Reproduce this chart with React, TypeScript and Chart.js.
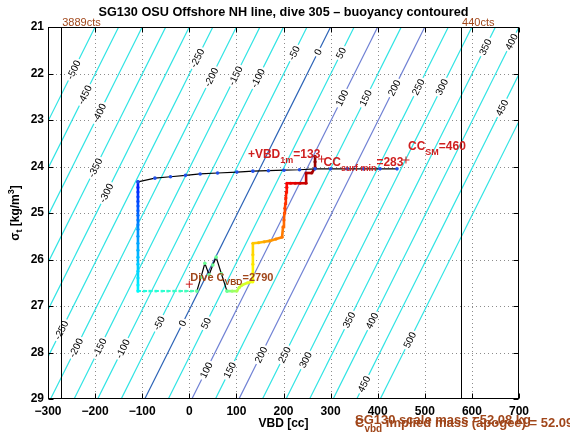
import React, { useEffect, useRef } from "react";
import { Chart, registerables } from "chart.js";

Chart.register(...registerables);

const FONT = '"Liberation Sans", Arial, Helvetica, sans-serif';

// ---- text ----
const TITLE = "SG130 OSU Offshore NH line, dive 305 – buoyancy contoured";
const X_TITLE = "VBD [cc]";

// ---- axes ----
const X_MIN = -300;
const X_MAX = 700;
const Y_MIN = 21;
const Y_MAX = 29;
const xTicks = [-300, -200, -100, 0, 100, 200, 300, 400, 500, 600, 700];
const yTicks = [21, 22, 23, 24, 25, 26, 27, 28, 29];

// ---- buoyancy contours (g) ----
const contourLevels = [-500, -450, -400, -350, -300, -250, -200, -150, -100, -50, 0, 50, 100, 150, 200, 250, 300, 350, 400, 450, 500];
const zeroContourVbdAtTop = 300; // VBD where the 0 g contour meets sigma 21
const zeroContourVbdAtBottom = -94.6; // VBD where the 0 g contour meets sigma 29

// contour label positions: level and sigma where the label sits
const labelLevels = [-500, -450, -400, -250, -200, -150, -100, -50, 0, 50, 100, 150, 200, 250, 300, 350, 400, 450, -350, -300,
  -250, -200, -150, -100, -50, 0, 50, 100, 150, 200, 250, 300, 350, 400, 450, 500];
const labelSigmas = [21.92, 22.46, 22.85, 21.67, 22.08, 22.05, 22.1, 21.56, 21.54, 21.56, 22.53, 22.53, 22.31, 22.29, 22.29, 21.43, 21.32, 22.74, 24.03, 24.57,
  27.52, 27.9, 27.9, 27.92, 27.37, 27.37, 27.37, 28.38, 28.38, 28.05, 28.05, 28.16, 27.3, 27.32, 28.68, 27.73];

// ---- VBD count limits ----
const minVbdLimit = -272; // 3889 cts
const maxVbdLimit = 577; // 440 cts
const minLimitLabel = "3889cts";
const maxLimitLabel = "440cts";

// ---- surface (black line, blue dots) ----
const surfaceVbd = [-109, -73, -40, -8, 23, 60, 101, 135, 168, 201, 234, 267, 300, 335, 370, 405, 441];
const surfaceSigma = [24.33, 24.25, 24.22, 24.19, 24.16, 24.14, 24.12, 24.1, 24.09, 24.08, 24.07, 24.05, 24.05, 24.05, 24.05, 24.05, 24.05];

// ---- descent ----
const descentVbd = [-109, -109, -109, -109, -109, -109, -109, -109, -109, -109, -109, -109, -109, -109, -109, -109, -109, -109, -109, -109];
const descentSigma = [24.33, 24.45, 24.55, 24.65, 24.75, 24.85, 24.95, 25.05, 25.15, 25.25, 25.35, 25.5, 25.65, 25.8, 25.95, 26.1, 26.25, 26.4, 26.55, 26.68];

// ---- apogee horizontal ----
const apogeeVbd = [-109, -96, -84, -71, -58, -46, -33, -20, -8, 4, 16];
const apogeeSigma = [26.68, 26.68, 26.68, 26.68, 26.68, 26.68, 26.68, 26.68, 26.68, 26.68, 26.68];

// ---- zigzag ----
const zigzagVbd = [16, 25, 33, 42, 50, 57, 68, 80];
const zigzagSigma = [26.68, 26.38, 26.08, 26.33, 26.12, 25.95, 26.3, 26.68];

// ---- ascent ----
const ascentVbd = [80, 91, 101, 106, 112, 124, 135, 135, 135, 135, 135, 147, 159, 171, 184, 197, 199, 201, 202, 203, 204, 205, 206, 207, 207, 215, 225, 235, 248, 248, 260, 267, 267, 267];
const ascentSigma = [26.68, 26.68, 26.68, 26.6, 26.55, 26.5, 26.48, 26.3, 26.1, 25.9, 25.65, 25.64, 25.62, 25.6, 25.56, 25.52, 25.3, 25.15, 25.0, 24.9, 24.8, 24.68, 24.55, 24.45, 24.36, 24.36, 24.36, 24.36, 24.36, 24.14, 24.14, 24.03, 23.9, 23.78];

// ---- annotations ----
const vbd1m = 133;
const ccSurfMin = 283;
const ccSM = 460;
const diveCvbd = 2790;
const markerSigma = 23.86;
const scaleMassText = "SG130 scale mass =52.08 kg";
const impliedMassText = " implied mass (apogee) = 52.099";

// ---- helpers ----
const pts = (xs: number[], ys: number[]) => xs.map((x, i) => ({ x, y: ys[i] }));

function jet(t: number): string {
  const c = (v: number) => Math.round(255 * Math.max(0, Math.min(1, v)));
  const r = c(1.5 - Math.abs(4 * t - 3));
  const g = c(1.5 - Math.abs(4 * t - 2));
  const b = c(1.5 - Math.abs(4 * t - 1));
  return `rgb(${r},${g},${b})`;
}
function jetRange(n: number, t0: number, t1: number, p = 1): string[] {
  return Array.from({ length: n }, (_, i) => jet(t0 + (t1 - t0) * Math.pow(n > 1 ? i / (n - 1) : 0, p)));
}
function contourColor(level: number): string {
  if (level === 0) return "#2a62b6";
  if (level === 100 || level === 200) return "#6f80d4";
  return "#2fe4e4";
}
const contourTopVbd = (level: number) => level + zeroContourVbdAtTop;
const contourBottomVbd = (level: number) => level + zeroContourVbdAtBottom;
const contourVbdAt = (level: number, s: number) =>
  contourTopVbd(level) + (contourBottomVbd(level) - contourTopVbd(level)) * (s - Y_MIN) / (Y_MAX - Y_MIN);

type Part = [string, boolean];
function drawRich(ctx: CanvasRenderingContext2D, parts: Part[], x: number, y: number, size: number, subSize: number, weight: string, color: string) {
  let cx = x;
  ctx.fillStyle = color;
  ctx.textAlign = "left";
  ctx.textBaseline = "middle";
  for (const [t, sub] of parts) {
    ctx.font = `${weight} ${sub ? subSize : size}px ${FONT}`;
    ctx.fillText(t, cx, sub ? y + size * 0.5 : y);
    cx += ctx.measureText(t).width;
  }
}
function plus(ctx: CanvasRenderingContext2D, x: number, y: number, color: string) {
  ctx.save();
  ctx.strokeStyle = color;
  ctx.lineWidth = 1;
  ctx.beginPath();
  ctx.moveTo(x - 3.5, y);
  ctx.lineTo(x + 3.5, y);
  ctx.moveTo(x, y - 3.5);
  ctx.lineTo(x, y + 3.5);
  ctx.stroke();
  ctx.restore();
}

const RED = "#cf1f1f";
const BROWN = "#a0461a";

const decor = {
  id: "decor",
  beforeDatasetsDraw(chart: any) {
    const { ctx, chartArea: a, scales } = chart;
    ctx.save();
    ctx.strokeStyle = "#8c8c8c";
    ctx.lineWidth = 1;
    ctx.setLineDash([1, 3]);
    for (const v of xTicks) {
      if (v === X_MIN || v === X_MAX) continue;
      const x = Math.round(scales.x.getPixelForValue(v)) + 0.5;
      ctx.beginPath();
      ctx.moveTo(x, a.top);
      ctx.lineTo(x, a.bottom);
      ctx.stroke();
    }
    for (const v of yTicks) {
      if (v === Y_MIN || v === Y_MAX) continue;
      const y = Math.round(scales.y.getPixelForValue(v)) + 0.5;
      ctx.beginPath();
      ctx.moveTo(a.left, y);
      ctx.lineTo(a.right, y);
      ctx.stroke();
    }
    ctx.restore();
  },
  afterDatasetDraw(chart: any, args: any) {
    if (args.index !== 0) return;
    const { ctx, chartArea: a, scales } = chart;
    const sx = scales.x, sy = scales.y;
    const ang = Math.atan2(
      sy.getPixelForValue(Y_MIN) - sy.getPixelForValue(Y_MAX),
      sx.getPixelForValue(contourTopVbd(0)) - sx.getPixelForValue(contourBottomVbd(0))
    );
    ctx.save();
    ctx.beginPath();
    ctx.rect(a.left, a.top, a.right - a.left, a.bottom - a.top);
    ctx.clip();
    ctx.font = `10px ${FONT}`;
    ctx.textAlign = "center";
    ctx.textBaseline = "middle";
    labelLevels.forEach((lv, i) => {
      const s = labelSigmas[i];
      const px = sx.getPixelForValue(contourVbdAt(lv, s));
      const py = sy.getPixelForValue(s);
      const txt = String(lv);
      const w = ctx.measureText(txt).width;
      ctx.save();
      ctx.translate(px, py);
      ctx.rotate(ang);
      ctx.fillStyle = "#ffffff";
      ctx.fillRect(-w / 2 - 2, -4, w + 4, 8);
      ctx.fillStyle = "#000000";
      ctx.fillText(txt, 0, 0.5);
      ctx.restore();
    });
    // VBD count limit lines
    ctx.strokeStyle = "#000";
    ctx.lineWidth = 1;
    ctx.beginPath();
    for (const v of [minVbdLimit, maxVbdLimit]) {
      const x = Math.round(sx.getPixelForValue(v)) + 0.5;
      ctx.moveTo(x, a.top);
      ctx.lineTo(x, a.bottom);
    }
    ctx.stroke();
    ctx.restore();
  },
  afterDraw(chart: any) {
    const { ctx, chartArea: a, scales } = chart;
    const sx = scales.x, sy = scales.y;
    const cx = (a.left + a.right) / 2;
    const cy = (a.top + a.bottom) / 2;
    ctx.save();
    // frame
    ctx.strokeStyle = "#000";
    ctx.lineWidth = 1;
    ctx.setLineDash([]);
    const L = Math.round(a.left) + 0.5, R = Math.round(a.right) - 0.5, T = Math.round(a.top) + 0.5, B = Math.round(a.bottom) - 0.5;
    ctx.strokeRect(L, T, R - L, B - T);
    ctx.beginPath();
    for (const v of xTicks) {
      const x = Math.round(sx.getPixelForValue(v)) + 0.5;
      ctx.moveTo(x, B); ctx.lineTo(x, B - 5);
      ctx.moveTo(x, T); ctx.lineTo(x, T + 5);
    }
    for (const v of yTicks) {
      const y = Math.round(sy.getPixelForValue(v)) + 0.5;
      ctx.moveTo(L, y); ctx.lineTo(L + 5, y);
      ctx.moveTo(R, y); ctx.lineTo(R - 5, y);
    }
    ctx.stroke();

    // title
    ctx.fillStyle = "#000";
    ctx.textAlign = "center";
    ctx.textBaseline = "middle";
    ctx.font = `bold 12.7px ${FONT}`;
    ctx.fillText(TITLE, cx, 12);
    // x title
    ctx.font = `bold 12px ${FONT}`;
    ctx.fillText(X_TITLE, cx, 424);
    // y title (rotated, with subscript and superscript)
    ctx.save();
    ctx.translate(16, cy);
    ctx.rotate(-Math.PI / 2);
    const yParts: [string, number, number][] = [["σ", 12, 0], ["t", 9, 4], [" [kg/m", 12, 0], ["3", 9, -4], ["]", 12, 0]];
    let tw = 0;
    for (const [t, s] of yParts) { ctx.font = `bold ${s}px ${FONT}`; tw += ctx.measureText(t).width; }
    let px = -tw / 2;
    ctx.textAlign = "left";
    for (const [t, s, dy] of yParts) {
      ctx.font = `bold ${s}px ${FONT}`;
      ctx.fillText(t, px, dy);
      px += ctx.measureText(t).width;
    }
    ctx.restore();

    // count limits labels
    ctx.font = `11px ${FONT}`;
    ctx.fillStyle = BROWN;
    ctx.textAlign = "left";
    ctx.textBaseline = "alphabetic";
    ctx.fillText(minLimitLabel, sx.getPixelForValue(minVbdLimit) + 1, a.top - 1);
    ctx.fillText(maxLimitLabel, sx.getPixelForValue(maxVbdLimit) + 1, a.top - 1);

    // annotations
    const my = sy.getPixelForValue(markerSigma);
    drawRich(ctx, [["+VBD", false], ["1m", true], ["=" + vbd1m, false]], sx.getPixelForValue(vbd1m) - 4, sy.getPixelForValue(23.75), 12, 9, "bold", RED);
    plus(ctx, sx.getPixelForValue(ccSurfMin) - 1, my - 1, RED);
    drawRich(ctx, [["CC", false], ["surf min", true], ["=" + ccSurfMin, false]], sx.getPixelForValue(ccSurfMin) + 1, sy.getPixelForValue(23.92), 12, 9, "bold", RED);
    plus(ctx, sx.getPixelForValue(ccSM), my, RED);
    drawRich(ctx, [["CC", false], ["SM", true], ["=" + ccSM, false]], sx.getPixelForValue(ccSM) + 2, sy.getPixelForValue(23.58), 12, 9, "bold", RED);
    plus(ctx, sx.getPixelForValue(0), sy.getPixelForValue(26.53), RED);
    drawRich(ctx, [["Dive C", false], ["VBD", true], ["=" + diveCvbd, false]], sx.getPixelForValue(0) + 1, sy.getPixelForValue(26.39), 11, 8.5, "bold", BROWN);

    // mass texts
    drawRich(ctx, [[scaleMassText, false]], 355, 420, 13, 10, "bold", BROWN);
    drawRich(ctx, [["C", false], ["vbd", true], [impliedMassText, false]], 355, 423, 13, 10, "bold", BROWN);
    ctx.restore();
  },
};

export default function App() {
  const ref = useRef<HTMLCanvasElement | null>(null);
  useEffect(() => {
    document.body.style.margin = "0";
    if (!ref.current) return;
    const datasets: any[] = [];
    contourLevels.forEach((lv) => {
      datasets.push({
        data: [
          { x: contourTopVbd(lv), y: Y_MIN },
          { x: contourBottomVbd(lv), y: Y_MAX },
        ],
        borderColor: contourColor(lv),
        borderWidth: 1.2,
        pointRadius: 0,
        showLine: true,
        order: 10,
      });
    });
    const descentColors = jetRange(descentVbd.length, 0.15, 0.37, 1);
    datasets.push({
      data: pts(descentVbd, descentSigma),
      showLine: true,
      borderWidth: 2.6,
      segment: { borderColor: (c: any) => descentColors[c.p0DataIndex] },
      borderColor: descentColors[0],
      pointRadius: 1.6,
      pointBackgroundColor: descentColors,
      pointBorderColor: descentColors,
      pointBorderWidth: 0,
      order: 4,
    });
    const apogeeColors = jetRange(apogeeVbd.length, 0.4, 0.45, 1);
    datasets.push({
      data: pts(apogeeVbd, apogeeSigma),
      showLine: true,
      borderWidth: 2,
      borderDash: [3, 2],
      segment: { borderColor: (c: any) => apogeeColors[c.p0DataIndex] },
      borderColor: apogeeColors[0],
      pointRadius: 1.8,
      pointStyle: "rect",
      pointBackgroundColor: apogeeColors,
      pointBorderColor: apogeeColors,
      pointBorderWidth: 0,
      order: 4,
    });
    datasets.push({
      data: pts(zigzagVbd, zigzagSigma),
      showLine: true,
      borderWidth: 1.2,
      borderColor: "#000",
      pointRadius: 1.8,
      pointBackgroundColor: jet(0.48),
      pointBorderColor: jet(0.48),
      pointBorderWidth: 0,
      order: 3,
    });
    const ascentColors = jetRange(ascentVbd.length, 0.5, 1.0, 0.85);
    datasets.push({
      data: pts(ascentVbd, ascentSigma),
      showLine: true,
      borderWidth: 2.6,
      segment: { borderColor: (c: any) => ascentColors[c.p0DataIndex] },
      borderColor: ascentColors[0],
      pointRadius: 1.6,
      pointBackgroundColor: ascentColors,
      pointBorderColor: ascentColors,
      pointBorderWidth: 0,
      order: 3,
    });
    datasets.push({
      data: pts(surfaceVbd, surfaceSigma),
      showLine: true,
      borderWidth: 1.2,
      borderColor: "#000",
      pointRadius: 1.8,
      pointBackgroundColor: "#2050e8",
      pointBorderColor: "#2050e8",
      pointBorderWidth: 0,
      order: 1,
    });

    const chart = new Chart(ref.current, {
      type: "scatter",
      data: { datasets },
      options: {
        animation: false,
        responsive: false,
        maintainAspectRatio: false,
        layout: { padding: { top: 27, right: 51, left: 0, bottom: 0 } },
        plugins: { legend: { display: false }, tooltip: { enabled: false }, title: { display: false } },
        scales: {
          x: {
            type: "linear",
            min: X_MIN,
            max: X_MAX,
            afterBuildTicks: (s: any) => { s.ticks = xTicks.map((v) => ({ value: v })); },
            afterFit: (s: any) => { s.height = 40; },
            grid: { display: false, drawTicks: false },
            border: { display: false },
            ticks: {
              autoSkip: false,
              maxRotation: 0,
              padding: 5,
              color: "#000",
              font: { family: FONT, size: 12, weight: "bold" },
              callback: (v: any) => String(v).replace("-", "\u2212"),
            },
          },
          y: {
            type: "linear",
            min: Y_MIN,
            max: Y_MAX,
            reverse: true,
            afterBuildTicks: (s: any) => { s.ticks = yTicks.map((v) => ({ value: v })); },
            afterFit: (s: any) => { s.width = 48; },
            grid: { display: false, drawTicks: false },
            border: { display: false },
            ticks: {
              autoSkip: false,
              padding: 4,
              color: "#000",
              font: { family: FONT, size: 12, weight: "bold" },
            },
          },
        },
      },
      plugins: [decor],
    } as any);
    return () => chart.destroy();
  }, []);
  return <canvas ref={ref} width={570} height={439} style={{ display: "block" }} />;
}
